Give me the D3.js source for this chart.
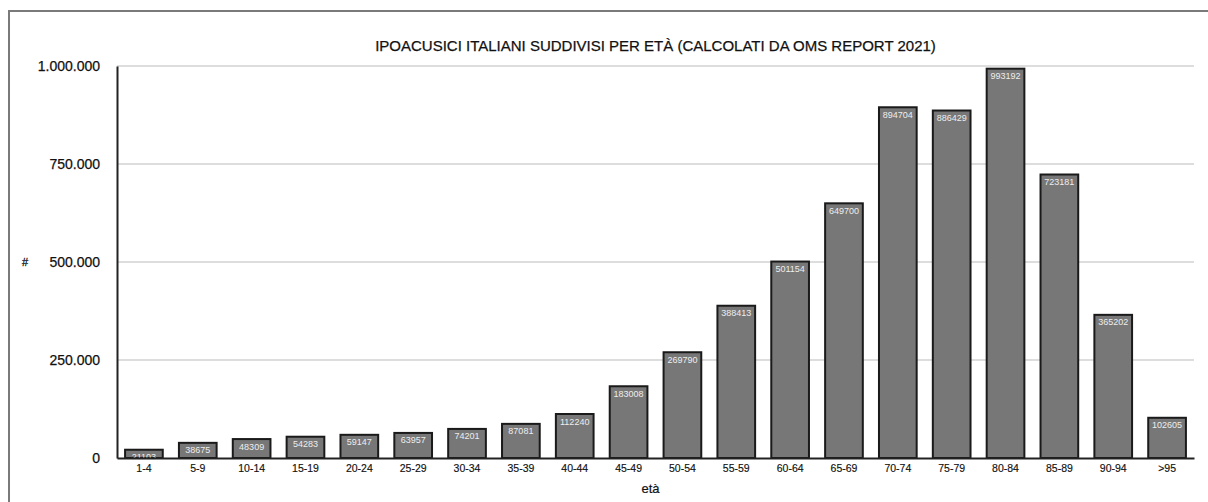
<!DOCTYPE html>
<html>
<head>
<meta charset="utf-8">
<script src="https://cdn.jsdelivr.net/npm/d3@7/dist/d3.min.js"></script>
<style>
  html, body { margin: 0; padding: 0; background: #fff; }
  svg { display: block; font-family: "Liberation Sans", Arial, Helvetica, sans-serif; }
</style>
</head>
<body>
<svg id="chart" width="1208" height="502"></svg>
<script>
// Age groups and hearing-impaired counts per group
const ageGroups = ["1-4","5-9","10-14","15-19","20-24","25-29","30-34","35-39","40-44","45-49",
  "50-54","55-59","60-64","65-69","70-74","75-79","80-84","85-89","90-94",">95"];
const counts = [21103, 38675, 48309, 54283, 59147, 63957, 74201, 87081, 112240, 183008,
  269790, 388413, 501154, 649700, 894704, 886429, 993192, 723181, 365202, 102605];
const yTicks = [0, 250000, 500000, 750000, 1000000];

const titleText = "IPOACUSICI ITALIANI SUDDIVISI PER ETÀ (CALCOLATI DA OMS REPORT 2021)";
const xTitle = "età";
const yTitle = "#";

const svg = d3.select("#chart");
const W = 1208, H = 502;
const plot = { left: 117, right: 1194, top: 66, bottom: 458 };

// Italian-style thousands separator
const it = d3.formatLocale({ decimal: ",", thousands: ".", grouping: [3], currency: ["€", ""] });
const fmt = it.format(",d");

// Frame around the figure (runs off the right and bottom edges)
svg.append("rect")
  .attr("x", 9).attr("y", 11)
  .attr("width", W + 20).attr("height", H + 20)
  .attr("fill", "none").attr("stroke", "#7a7a7a").attr("stroke-width", 2);

const x = d3.scaleBand()
  .domain(ageGroups)
  .range([plot.left, plot.right])
  .paddingInner(0.3)
  .paddingOuter(0.15);

const y = d3.scaleLinear()
  .domain([0, 1000000])
  .range([plot.bottom, plot.top]);

// Horizontal gridlines
svg.append("g")
  .selectAll("line")
  .data(yTicks.filter(d => d > 0))
  .join("line")
  .attr("x1", plot.left).attr("x2", plot.right)
  .attr("y1", d => y(d)).attr("y2", d => y(d))
  .attr("stroke", "#d2d2d2").attr("stroke-width", 1.5);

// Y axis
const yAxis = svg.append("g")
  .attr("transform", `translate(${plot.left},0)`)
  .call(d3.axisLeft(y).tickValues(yTicks).tickFormat(fmt).tickSize(0).tickPadding(17));
yAxis.select(".domain").attr("stroke", "#222").attr("stroke-width", 2);
yAxis.selectAll("text").attr("font-size", 14).attr("fill", "#111")
  .attr("stroke", "#111").attr("stroke-width", 0.25)
  .attr("font-family", "Liberation Sans, Arial, sans-serif");

// Bars
svg.append("g")
  .selectAll("rect")
  .data(counts)
  .join("rect")
  .attr("x", (d, i) => x(ageGroups[i]))
  .attr("y", d => y(d))
  .attr("width", x.bandwidth())
  .attr("height", d => y(0) - y(d))
  .attr("fill", "#777777")
  .attr("stroke", "#1a1a1a")
  .attr("stroke-width", 2);

// Value labels inside the top of each bar
svg.append("g")
  .selectAll("text")
  .data(counts)
  .join("text")
  .attr("x", (d, i) => x(ageGroups[i]) + x.bandwidth() / 2)
  .attr("y", d => y(d) + 10.5)
  .attr("text-anchor", "middle")
  .attr("font-size", 9)
  .attr("fill", "#eeeeee")
  .text(d => d);

// X axis
const xAxis = svg.append("g")
  .attr("transform", `translate(0,${plot.bottom})`)
  .call(d3.axisBottom(x).tickSize(0).tickPadding(7));
xAxis.select(".domain").attr("stroke", "#222").attr("stroke-width", 2);
xAxis.selectAll("text").attr("font-size", 10.5).attr("fill", "#111")
  .attr("stroke", "#111").attr("stroke-width", 0.15)
  .attr("font-family", "Liberation Sans, Arial, sans-serif");

// Title and axis titles
svg.append("text")
  .attr("x", (plot.left + plot.right) / 2).attr("y", 51)
  .attr("text-anchor", "middle")
  .attr("font-size", 15)
  .attr("fill", "#111")
  .attr("stroke", "#111").attr("stroke-width", 0.25)
  .text(titleText);

svg.append("text")
  .attr("x", (plot.left + plot.right) / 2 - 5).attr("y", 493)
  .attr("text-anchor", "middle")
  .attr("font-size", 13)
  .attr("fill", "#111")
  .attr("stroke", "#111").attr("stroke-width", 0.2)
  .text(xTitle);

svg.append("text")
  .attr("x", 25).attr("y", 266)
  .attr("text-anchor", "middle")
  .attr("font-size", 11)
  .attr("fill", "#111")
  .attr("stroke", "#111").attr("stroke-width", 0.3)
  .text(yTitle);
</script>
</body>
</html>
